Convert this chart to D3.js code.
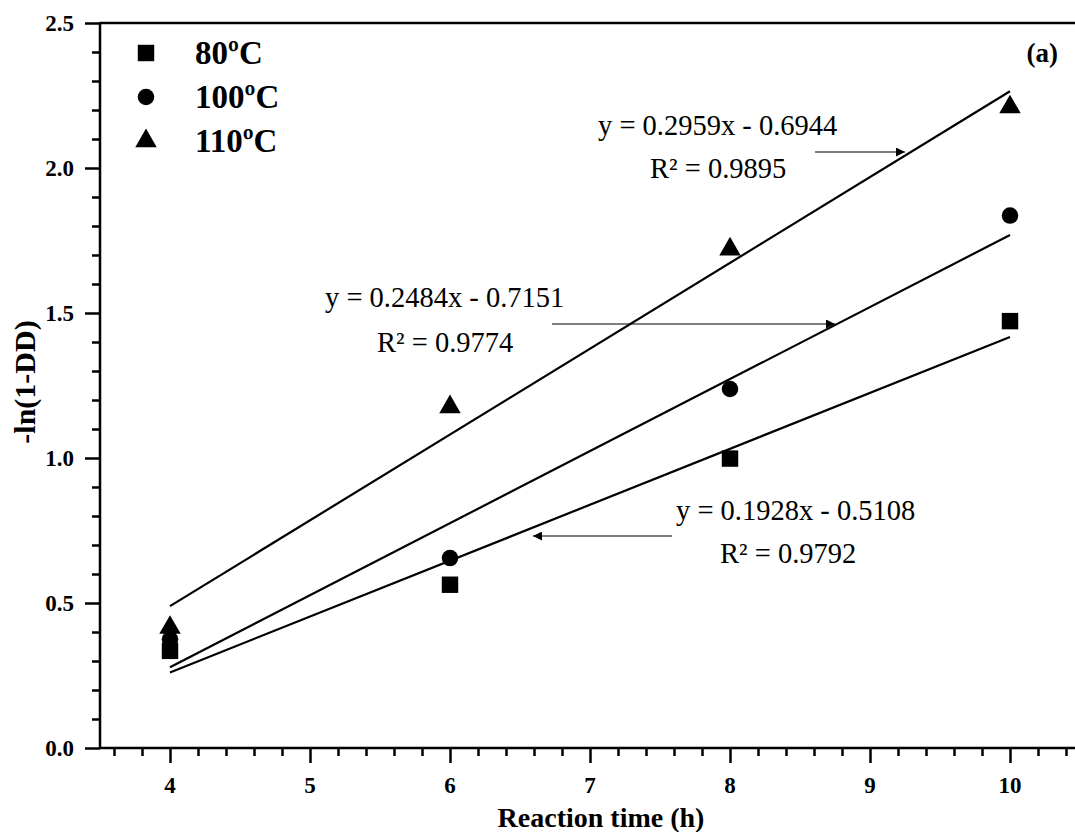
<!DOCTYPE html>
<html>
<head>
<meta charset="utf-8">
<script src="https://cdn.jsdelivr.net/npm/d3@7"></script>
<style>
  body { margin: 0; background: #fff; }
  svg { display: block; font-family: "Liberation Serif", "Times New Roman", serif; }
</style>
</head>
<body>
<div id="vis"></div>
<script>
// reaction time (h)
var times = [4, 6, 8, 10];

// -ln(1-DD)
var deg80 = [0.335, 0.563, 0.998, 1.472];
var deg100 = [0.375, 0.655, 1.238, 1.836];
var deg110 = [0.415, 1.176, 1.72, 2.21];

var seriesNames = ["80ºC", "100ºC", "110ºC"];
var slopes = [0.1928, 0.2484, 0.2959];
var intercepts = [-0.5108, -0.7151, -0.6944];
var eqLabels = ["y = 0.1928x - 0.5108", "y = 0.2484x - 0.7151", "y = 0.2959x - 0.6944"];
var r2Labels = ["R² = 0.9792", "R² = 0.9774", "R² = 0.9895"];

var xTicks = [4, 5, 6, 7, 8, 9, 10];
var yTicks = [0, 0.5, 1.0, 1.5, 2.0, 2.5];

var width = 1075, height = 832;

var svg = d3.select("#vis")
    .append("svg")
    .attr("width", width)
    .attr("height", height);

var x = d3.scaleLinear()
    .domain([3.5, 10.5])
    .range([100, 1080]);

var y = d3.scaleLinear()
    .domain([0, 2.5])
    .range([748, 23]);

////////// axes //////////

var xMinor = d3.range(36, 106, 2).map(function(d) { return d / 10; })
    .filter(function(d) { return d % 1 !== 0; });
var yMinor = d3.range(1, 25).map(function(d) { return d / 10; })
    .filter(function(d) { return (d * 10) % 5 !== 0; });

function noDomain(g) { g.select(".domain").remove(); }

var xAxisG = svg.append("g")
    .attr("transform", "translate(0," + y(0) + ")");

xAxisG.append("g")
    .call(d3.axisBottom(x).tickValues(xMinor).tickSize(8).tickFormat(""))
    .call(noDomain);

xAxisG.append("g")
    .call(d3.axisBottom(x).tickValues(xTicks).tickSize(15).tickFormat(""))
    .call(noDomain);

var yAxisG = svg.append("g")
    .attr("transform", "translate(" + x(3.5) + ",0)");

yAxisG.append("g")
    .call(d3.axisLeft(y).tickValues(yMinor).tickSize(8).tickFormat(""))
    .call(noDomain);

yAxisG.append("g")
    .call(d3.axisLeft(y).tickValues(yTicks).tickSize(15).tickFormat(""))
    .call(noDomain);

svg.selectAll(".tick line")
    .attr("stroke", "#000")
    .attr("stroke-width", 2.5);

// tick labels in bold serif
svg.append("g").selectAll("text")
    .data(xTicks)
    .enter()
    .append("text")
    .attr("x", x)
    .attr("y", 793)
    .attr("text-anchor", "middle")
    .attr("font-weight", "bold")
    .attr("font-size", "23px")
    .text(d3.format("d"));

svg.append("g").selectAll("text")
    .data(yTicks)
    .enter()
    .append("text")
    .attr("x", 74)
    .attr("y", function(d) { return y(d) + 8; })
    .attr("text-anchor", "end")
    .attr("font-weight", "bold")
    .attr("font-size", "23px")
    .text(d3.format(".1f"));

// frame lines: left, bottom and top
svg.append("line")
    .attr("x1", x(3.5)).attr("x2", x(3.5))
    .attr("y1", y(2.5) - 1).attr("y2", y(0) + 1)
    .attr("stroke", "#000").attr("stroke-width", 2.5);
svg.append("line")
    .attr("x1", x(3.5)).attr("x2", width)
    .attr("y1", y(0)).attr("y2", y(0))
    .attr("stroke", "#000").attr("stroke-width", 2.5);
svg.append("line")
    .attr("x1", x(3.5)).attr("x2", width)
    .attr("y1", y(2.5)).attr("y2", y(2.5))
    .attr("stroke", "#000").attr("stroke-width", 2.5);

svg.append("text")
    .attr("x", 601)
    .attr("y", 827)
    .attr("text-anchor", "middle")
    .attr("font-weight", "bold")
    .attr("font-size", "28px")
    .text("Reaction time (h)");

svg.append("text")
    .attr("transform", "translate(35," + 382 + ") rotate(-90)")
    .attr("text-anchor", "middle")
    .attr("font-weight", "bold")
    .attr("font-size", "30px")
    .text("-ln(1-DD)");

svg.append("text")
    .attr("x", 1058)
    .attr("y", 62)
    .attr("text-anchor", "end")
    .attr("font-weight", "bold")
    .attr("font-size", "27px")
    .text("(a)");

////////// fits //////////

var plot = svg.append("g").attr("class", "plot");

slopes.forEach(function(k, i) {
  plot.append("line")
      .attr("x1", x(4)).attr("y1", y(k * 4 + intercepts[i]))
      .attr("x2", x(10)).attr("y2", y(k * 10 + intercepts[i]))
      .attr("stroke", "#000")
      .attr("stroke-width", 2.2);
});

////////// points //////////

var symbols = [d3.symbolSquare, d3.symbolCircle, d3.symbolTriangle];
var symSizes = [270, 215, 200];
var allSeries = [deg80, deg100, deg110];

allSeries.forEach(function(vals, i) {
  plot.selectAll(".pt" + i)
      .data(vals)
      .enter()
      .append("path")
      .attr("class", "pt" + i)
      .attr("transform", function(d, j) {
        return "translate(" + x(times[j]) + "," + y(d) + ")";
      })
      .attr("d", d3.symbol().type(symbols[i]).size(symSizes[i]))
      .attr("fill", "#000");
});

////////// legend //////////

var legend = svg.append("g");
seriesNames.forEach(function(name, i) {
  var cy = 53 + i * 44;
  legend.append("path")
      .attr("transform", "translate(146," + cy + ")")
      .attr("d", d3.symbol().type(symbols[i]).size(symSizes[i]))
      .attr("fill", "#000");
  legend.append("text")
      .attr("x", 195)
      .attr("y", cy + 11)
      .attr("font-weight", "bold")
      .attr("font-size", "33px")
      .text(name);
});

////////// equations and arrows //////////

svg.append("defs").append("marker")
    .attr("id", "head")
    .attr("viewBox", "0 0 10 10")
    .attr("refX", 10).attr("refY", 5)
    .attr("markerUnits", "userSpaceOnUse")
    .attr("markerWidth", 18).attr("markerHeight", 9)
    .attr("orient", "auto")
  .append("path")
    .attr("d", "M0,0 L10,5 L0,10 Z")
    .attr("fill", "#000");

var eqPos = [
  {ex: 676, ey: 520, rx: 720, ry: 563, a1: 672, a2: 533, ay: 536},
  {ex: 325, ey: 307, rx: 377, ry: 352, a1: 552, a2: 835, ay: 324},
  {ex: 598, ey: 135, rx: 650, ry: 178, a1: 815, a2: 905, ay: 152}
];

eqPos.forEach(function(p, i) {
  svg.append("text")
      .attr("x", p.ex).attr("y", p.ey)
      .attr("font-size", "28.5px")
      .text(eqLabels[i]);
  svg.append("text")
      .attr("x", p.rx).attr("y", p.ry)
      .attr("font-size", "28.5px")
      .text(r2Labels[i]);
  svg.append("line")
      .attr("x1", p.a1).attr("x2", p.a2)
      .attr("y1", p.ay).attr("y2", p.ay)
      .attr("stroke", "#000")
      .attr("stroke-width", 1.2)
      .attr("marker-end", "url(#head)");
});
</script>
</body>
</html>
